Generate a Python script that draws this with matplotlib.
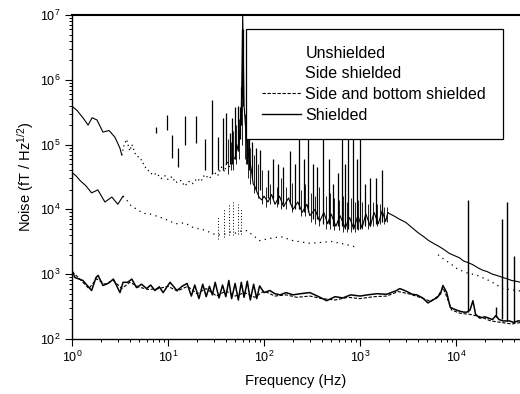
import numpy as np
import matplotlib
matplotlib.use('Agg')
import matplotlib.pyplot as plt
from matplotlib.lines import Line2D

plt.rcParams['font.family'] = ['Liberation Sans', 'DejaVu Sans']
plt.rcParams['mathtext.fontset'] = 'custom'
plt.rcParams['mathtext.rm'] = 'Liberation Sans'
plt.rcParams['mathtext.it'] = 'Liberation Sans:italic'
plt.rcParams['mathtext.bf'] = 'Liberation Sans:bold'

# ---------------- data ----------------
labels = ['Unshielded', 'Side shielded', 'Side and bottom shielded', 'Shielded']

unsh_f = [1, 1.12, 1.3, 1.47, 1.62, 1.82, 2.1, 2.43, 2.8, 3.16,
          3.3, 3.5, 3.7, 4.0, 4.2, 4.6, 5.2, 5.8, 6.5, 7,
          7.6, 8.5, 9.3, 10, 11, 12, 13.5, 15, 16.5, 18,
          20, 22, 24, 27, 30, 33, 36, 39, 41, 44,
          47, 50, 52, 54, 56, 58, 59, 60, 61, 62,
          64, 66, 69, 72, 75, 77, 81, 85, 90, 95,
          100, 110, 120, 130, 145, 160, 180, 200, 225, 250,
          280, 300, 340, 380, 420, 460, 500, 560, 620, 700,
          780, 860, 950, 1050, 1150, 1280, 1400, 1550, 1700, 1850,
          1950, 2000, 2300, 2600, 3000, 3500, 4000, 4600, 5200, 5800,
          6600, 7500, 8500, 9500, 10800, 12000, 13500, 15000, 17000, 19000,
          21000, 24000, 27000, 30000, 34000, 38000, 42000, 47000]
unsh_v = [3.9e5, 3.4e5, 2.6e5, 2.0e5, 2.6e5, 2.4e5, 1.56e5, 1.65e5, 1.3e5, 8.8e4,
          6.9e4, 1.0e5, 1.2e5, 8e4, 1.0e5, 7e4, 6e4, 4.5e4, 3.7e4, 3.4e4,
          3.6e4, 3.0e4, 3.3e4, 2.9e4, 3.2e4, 2.6e4, 2.8e4, 2.3e4, 2.7e4, 2.5e4,
          3.0e4, 2.7e4, 3.4e4, 3.0e4, 3.8e4, 3.3e4, 4.5e4, 3.8e4, 5.5e4, 4.5e4,
          7e4, 6e4, 1.0e5, 8e4, 1.5e5, 3e5, 1.5e6, 1e7, 2e6, 4e5,
          2e5, 1.2e5, 7e4, 5e4, 3.5e4, 2.5e4, 2.2e4, 1.8e4, 1.5e4, 1.4e4,
          1.6e4, 1.3e4, 1.7e4, 1.2e4, 1.6e4, 1.1e4, 1.5e4, 1.0e4, 1.3e4, 9e3,
          1.2e4, 8e3, 1.0e4, 6.5e3, 9e3, 6e3, 8.5e3, 5.5e3, 8e3, 5.2e3,
          7.5e3, 5e3, 8e3, 5.2e3, 8.5e3, 5.5e3, 9e3, 6e3, 9.5e3, 6.5e3,
          9e3, 8.7e3, 7.8e3, 7e3, 6.3e3, 5.2e3, 4.4e3, 3.8e3, 3.3e3, 3.0e3,
          2.7e3, 2.4e3, 2.1e3, 1.95e3, 1.8e3, 1.6e3, 1.5e3, 1.4e3, 1.25e3, 1.15e3,
          1.1e3, 1.0e3, 9.5e2, 9e2, 8.5e2, 8e2, 7.8e2, 7.5e2]

# unshielded line-frequency peaks: frequency, lower end, upper end
unsh_spk_f = [7.5, 9.8, 11, 12.7, 15, 19.5, 24, 29, 33, 37, 40, 44, 46, 50, 53, 56,
              57.5, 59.5, 61, 66, 70, 75, 82, 91, 110, 123, 140, 158, 186, 210,
              232, 260, 287, 320, 356, 412, 470, 523, 590, 649, 700, 750, 845, 920,
              1000, 1128, 1270, 1468, 1694]
unsh_spk_lo = [1.5e5, 1.7e5, 6.3e4, 4.5e4, 9.8e4, 1.05e5, 4e4, 3.5e4, 4e4, 4e4, 5e4, 5e4,
               5e4, 6e4, 8e4, 1.2e5, 2e5, 5e5, 4e5, 5e4, 4e4, 3e4, 2e4, 2e4, 1.5e4, 1.5e4,
               1.2e4, 1.2e4, 1.2e4, 1e4, 1e4, 9e3, 9e3, 7e3, 7e3, 6e3, 6e3, 5.5e3, 5.5e3,
               5.5e3, 5e3, 5e3, 5e3, 5e3, 5e3, 5.5e3, 5.5e3, 6e3, 6.5e3]
unsh_spk_hi = [1.9e5, 2.9e5, 1.4e5, 9e4, 2.8e5, 2.8e5, 1.2e5, 4.9e5, 1.3e5, 2.6e5, 3.1e5,
               1.5e5, 2.6e5, 3.8e5, 4e5, 3.8e5, 7.7e5, 6e6, 6e6, 1.3e5, 2e5, 1.1e5, 9e4,
               8.2e4, 4e4, 6e4, 5e4, 4.5e4, 8e4, 5e4, 3e5, 6e4, 3e5, 5e4, 4.5e4, 3e5,
               6e4, 2.5e4, 3.7e4, 3e5, 5e4, 3e5, 2.5e5, 6e4, 3e5, 2.5e4, 3e4, 3e4, 4e4]
# dense short peaks filling the noisy bands
unsh_fine_f = [42, 45, 48, 51, 54.5, 58.5, 63, 64.5, 68, 72, 78, 86, 95,
               105, 115, 135, 150, 170, 195, 240, 270, 310, 340, 370, 440, 490,
               540, 610, 670, 730, 800, 880, 960, 1050, 1200, 1350, 1500, 1600,
               1780, 1900]
unsh_fine_lo = [3.5e4, 4e4, 4e4, 5e4, 6e4, 1e5, 6e4, 5e4, 3e4, 2.5e4, 1.8e4, 1.5e4, 1.2e4,
                1.1e4, 1.2e4, 1.1e4, 1.0e4, 1.0e4, 9e3, 8e3, 8e3, 6.5e3, 6e3, 5.5e3, 5e3,
                5e3, 4.8e3, 4.8e3, 4.5e3, 4.5e3, 4.5e3, 4.5e3, 4.8e3, 5e3, 5e3, 5.5e3,
                5.5e3, 6e3, 6e3, 6.5e3]
unsh_fine_hi = [1.2e5, 1.1e5, 1.6e5, 2e5, 2.5e5, 5e5, 3e5, 2e5, 1.2e5, 9e4, 7e4, 5e4, 4e4,
                2.2e4, 2.5e4, 2.2e4, 3e4, 2.2e4, 2.6e4, 2.0e4, 2.5e4, 1.8e4, 1.6e4, 2.2e4,
                1.6e4, 1.8e4, 1.5e4, 1.4e4, 1.6e4, 1.3e4, 1.5e4, 1.3e4, 1.4e4, 1.3e4,
                1.2e4, 1.3e4, 1.2e4, 1.2e4, 1.1e4, 1.1e4]

side_f = [1, 1.1, 1.21, 1.4, 1.6, 1.86, 2.2, 2.6, 3.0, 3.4,
          3.7, 4.2, 4.8, 5.5, 6.5, 8.2, 10, 12, 15, 18,
          24, 32, 40, 45, 50, 56, 66, 80, 90, 120,
          150, 200, 300, 400, 500, 700, 930]
side_v = [3.7e4, 3.3e4, 2.8e4, 2.3e4, 1.8e4, 2.0e4, 1.3e4, 1.55e4, 1.2e4, 1.6e4,
          1.4e4, 1.1e4, 1.0e4, 8.7e3, 8.5e3, 7.6e3, 6.8e3, 6e3, 6.2e3, 5.3e3,
          4.8e3, 4e3, 4.2e3, 4.5e3, 4.3e3, 4.6e3, 4.7e3, 3.8e3, 3.3e3, 3.6e3,
          3.8e3, 3.3e3, 3.0e3, 3.1e3, 3.2e3, 2.9e3, 2.6e3]
side_hf_f = [6500, 7100, 8500, 10400, 13000, 16600, 22000, 26000, 30000, 36000, 47000]
side_hf_v = [2.0e3, 1.8e3, 1.5e3, 1.2e3, 1.05e3, 9.6e2, 8e2, 7e2, 6e2, 5.8e2, 5.5e2]
side_spk_f = [33, 38, 43, 48, 53, 58]
side_spk_lo = [3.5e3, 3.8e3, 4e3, 4e3, 4.2e3, 4.2e3]
side_spk_hi = [8e3, 1e4, 1.2e4, 1.4e4, 1.2e4, 1.0e4]

sb_f = [1, 1.2, 1.5, 1.8, 2.2, 2.7, 3.3, 4, 5, 6.3,
        8, 10, 12.5, 16, 20, 25, 32, 40, 50, 63,
        80, 100, 130, 170, 220, 300, 400, 550, 750, 1000,
        1400, 1900, 2500, 3200, 4200, 5500, 6500, 7300, 8000, 9000,
        11000, 14000, 18000, 23000, 30000, 38000, 47000]
sb_v = [1.1e3, 8.5e2, 6e2, 8.5e2, 7e2, 8e2, 6e2, 7.5e2, 6.3e2, 5.8e2,
        6e2, 6.5e2, 5.5e2, 6.5e2, 5e2, 6e2, 4.6e2, 5.5e2, 4.6e2, 5.2e2,
        4.4e2, 5.5e2, 4.6e2, 4.8e2, 4.4e2, 4.6e2, 4.2e2, 4.0e2, 4.4e2, 4.2e2,
        4.5e2, 4.6e2, 5.4e2, 5.0e2, 4.4e2, 3.8e2, 4.6e2, 6.2e2, 4.5e2, 2.8e2,
        2.5e2, 2.4e2, 2.2e2, 1.9e2, 1.8e2, 1.7e2, 1.8e2]

sh_f = [1, 1.07, 1.3, 1.6, 1.78, 1.87, 2.1, 2.37, 2.7, 3.16,
        3.4, 3.8, 4.2, 4.7, 5.3, 6, 6.6, 7.3, 8.1, 8.9,
        10.5, 12.4, 14, 15.8, 17.5, 19, 21, 23, 25, 27,
        29, 31, 34, 37, 40, 43, 46, 50, 54, 58,
        62, 67, 72, 78, 84, 90, 100, 115, 130, 147,
        170, 200, 240, 300, 360, 450, 550, 660, 800, 1000,
        1200, 1500, 1900, 2400, 2600, 3000, 3500, 3900, 4500, 5100,
        5700, 6300, 6900, 7300, 7700, 8000, 8700, 9500, 10800, 12000,
        13000, 14000, 15000, 16000, 17700, 20000, 24000, 26000, 28000, 31000,
        36000, 40000, 44000, 47000]
sh_v = [1.15e3, 8.9e2, 8.0e2, 5.6e2, 8.9e2, 9.6e2, 6.7e2, 7.2e2, 8.4e2, 5.2e2,
        7.5e2, 7.5e2, 8.4e2, 6.2e2, 7.0e2, 6.0e2, 6.8e2, 5.6e2, 6.4e2, 5.2e2,
        7.5e2, 5.6e2, 6.5e2, 7.2e2, 4.6e2, 6.8e2, 4.2e2, 7.0e2, 4.5e2, 6.5e2,
        4.8e2, 7.5e2, 4.3e2, 6.8e2, 4.5e2, 8.0e2, 4.2e2, 7.2e2, 4.0e2, 7.5e2,
        4.4e2, 7.8e2, 4.0e2, 7.0e2, 4.2e2, 6.6e2, 5.2e2, 5.6e2, 5.0e2, 4.8e2,
        5.2e2, 4.8e2, 5.0e2, 5.2e2, 4.6e2, 3.9e2, 4.5e2, 4.3e2, 4.8e2, 4.6e2,
        4.8e2, 5.0e2, 4.9e2, 5.6e2, 6.0e2, 5.5e2, 4.9e2, 4.8e2, 4.3e2, 3.6e2,
        4.0e2, 4.3e2, 5.0e2, 6.7e2, 5.8e2, 5.2e2, 3.1e2, 2.9e2, 2.7e2, 2.6e2,
        2.6e2, 2.8e2, 3.9e2, 2.4e2, 2.1e2, 2.2e2, 2.0e2, 2.3e2, 2.0e2, 1.9e2,
        1.9e2, 1.8e2, 1.9e2, 1.9e2]
sh_spk_f = [13300, 26000, 30000, 34000, 40000]
sh_spk_lo = [2.6e2, 2.2e2, 2.0e2, 1.9e2, 1.8e2]
sh_spk_hi = [1.4e4, 3.1e2, 7e3, 1.3e4, 1.9e3]

# ---------------- figure ----------------
W, H = 520, 394
fig = plt.figure(figsize=(W / 100, H / 100), dpi=100)
ax = fig.add_axes([72 / W, 1 - 339 / H, 1 - 72 / W, (339 - 15) / H])

dot_ls = (0, (1, 2.5))
dash_ls = (0, (3, 1.5))

# Unshielded
ax.plot(unsh_f[:11], unsh_v[:11], color='k', lw=0.8)
ax.plot(unsh_f[10:42], unsh_v[10:42], color='k', lw=0.9, ls=dot_ls)
ax.plot(unsh_f[41:], unsh_v[41:], color='k', lw=0.8)
ax.vlines(unsh_spk_f, unsh_spk_lo, unsh_spk_hi, colors='k', lw=0.9)
ax.vlines(unsh_fine_f, unsh_fine_lo, unsh_fine_hi, colors='k', lw=0.6)

# Side shielded
ax.plot(side_f[:10], side_v[:10], color='k', lw=0.8)
ax.plot(side_f[9:], side_v[9:], color='k', lw=0.9, ls=(0, (1, 3.5)))
ax.plot(side_hf_f, side_hf_v, color='k', lw=0.9, ls=(0, (1, 3.5)))
ax.vlines(side_spk_f, side_spk_lo, side_spk_hi, colors='k', lw=0.7, linestyles=[(0, (1, 2))])

# Side and bottom shielded
ax.plot(sb_f, sb_v, color='k', lw=0.8, ls=dash_ls)

# Shielded
ax.plot(sh_f, sh_v, color='k', lw=1.1)
ax.vlines(sh_spk_f, sh_spk_lo, sh_spk_hi, colors='k', lw=1.0)

ax.set_xscale('log')
ax.set_yscale('log')
ax.set_xlim(1, 46400)
ax.set_ylim(1e2, 1e7)

ax.spines['right'].set_visible(False)
ax.spines['top'].set_linewidth(1.5)
ax.spines['left'].set_linewidth(1.0)
ax.spines['bottom'].set_linewidth(1.0)
ax.tick_params(which='major', direction='out', length=5, width=0.8, labelsize=9, pad=3)
ax.tick_params(which='minor', direction='out', length=2.5, width=0.7)
ax.tick_params(top=False, right=False, which='both')

ax.set_xlabel('Frequency (Hz)', fontsize=10.5, labelpad=6)
ax.set_ylabel('Noise (fT / Hz$^{1/2}$)', fontsize=10.5, labelpad=3)

handles = [Line2D([], [], ls='none'),
           Line2D([], [], ls='none'),
           Line2D([], [], color='k', lw=0.8, ls=dash_ls),
           Line2D([], [], color='k', lw=1.0)]
leg = ax.legend(handles, labels, loc='upper right',
                bbox_to_anchor=(503 / W, 1 - 29 / H), bbox_transform=fig.transFigure,
                borderaxespad=0, frameon=True, fancybox=False, edgecolor='k',
                framealpha=1, fontsize=11.5, handlelength=2.4, handletextpad=0.3,
                labelspacing=0.35, borderpad=1.05)
leg.get_frame().set_linewidth(0.9)

fig.savefig('out.png', dpi=100)
